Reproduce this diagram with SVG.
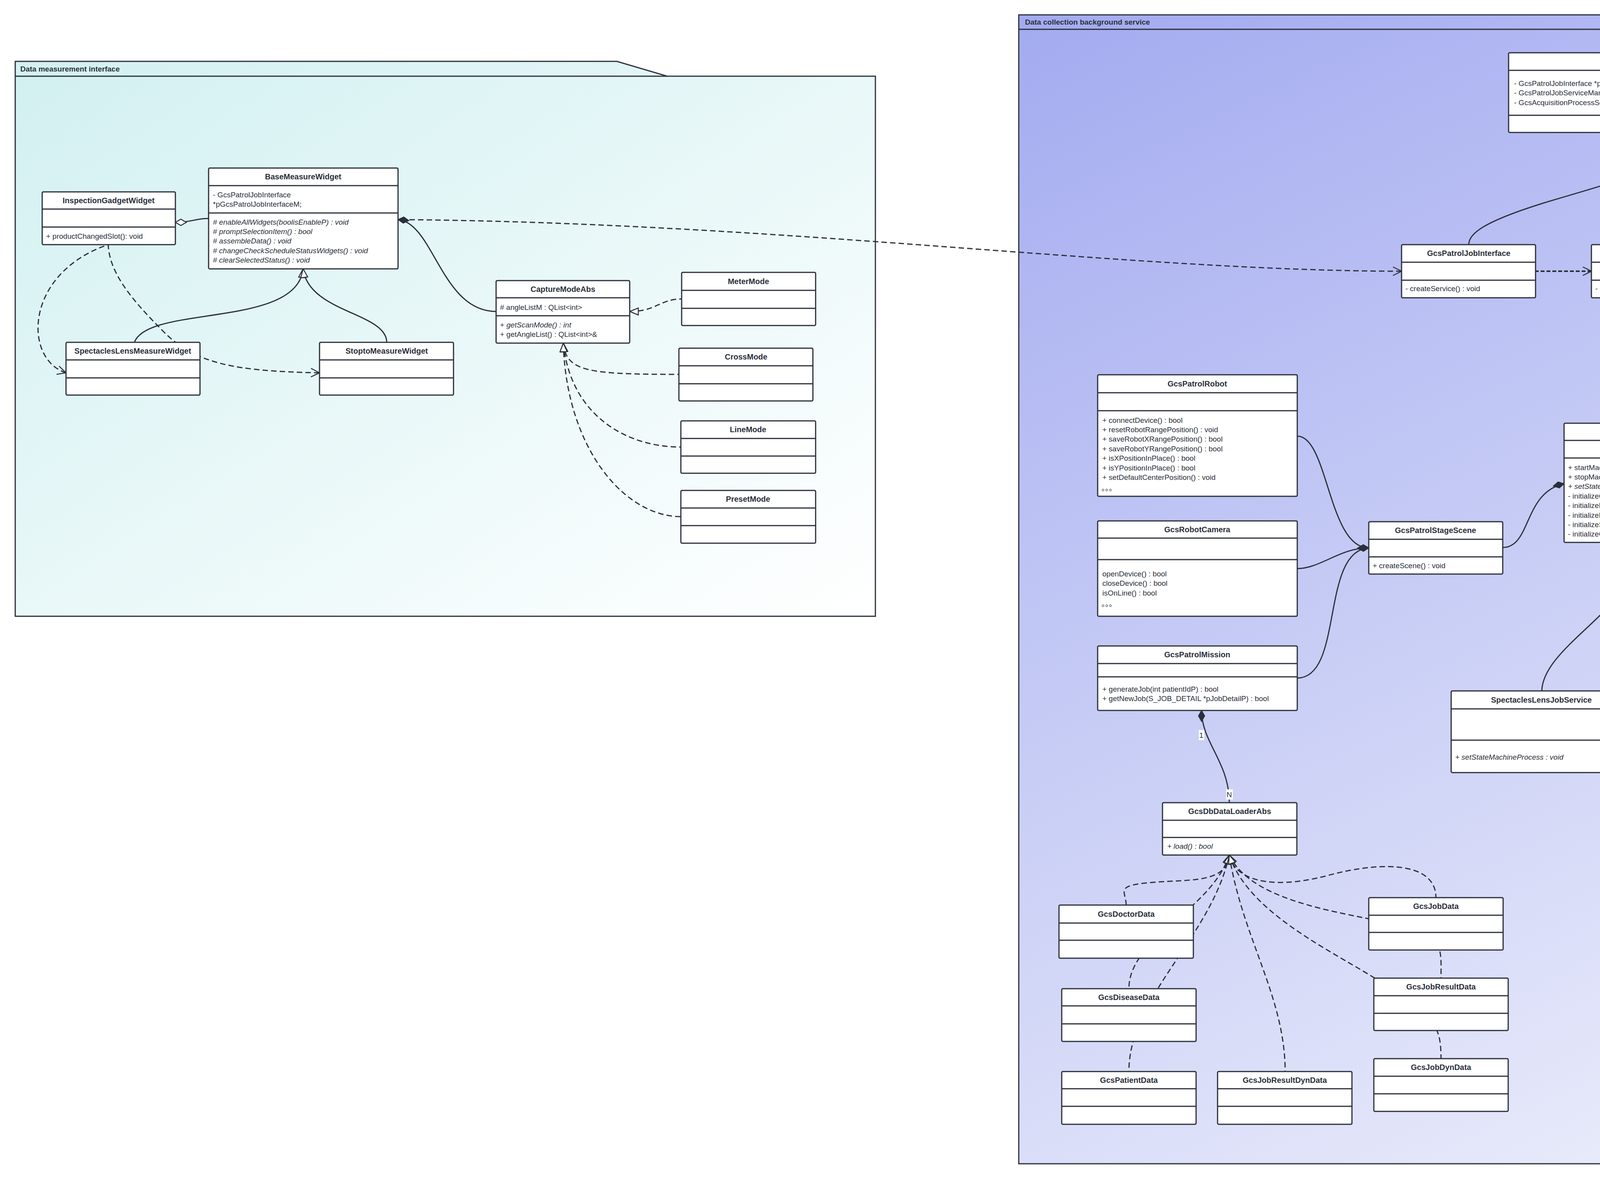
<svg xmlns="http://www.w3.org/2000/svg" width="6371" height="3017" viewBox="0 0 6371 3017">
<defs>
<linearGradient id="gL" x1="0" y1="0" x2="1" y2="1"><stop offset="0" stop-color="#d2f0f1"/><stop offset="1" stop-color="#ffffff"/></linearGradient>
<linearGradient id="gR" x1="0" y1="0" x2="0.6" y2="1"><stop offset="0" stop-color="#a3abf0"/><stop offset="1" stop-color="#eef0fb"/></linearGradient>
<marker id="dF" markerUnits="userSpaceOnUse" viewBox="-32 -10 34 20" markerWidth="34" markerHeight="20" refX="0" refY="0" orient="auto-start-reverse"><path d="M-28,0 L-14,-8 L0,0 L-14,8 z" fill="#2b2f3a" stroke="#2b2f3a" stroke-width="2"/></marker>
<marker id="dH" markerUnits="userSpaceOnUse" viewBox="-32 -10 34 20" markerWidth="34" markerHeight="20" refX="0" refY="0" orient="auto-start-reverse"><path d="M-28,0 L-14,-8 L0,0 L-14,8 z" fill="#fff" stroke="#2b2f3a" stroke-width="2.5"/></marker>
<marker id="tH" markerUnits="userSpaceOnUse" viewBox="-26 -12 28 24" markerWidth="28" markerHeight="24" refX="0" refY="0" orient="auto-start-reverse"><path d="M-22,-9 L0,0 L-22,9 z" fill="#fff" stroke="#2b2f3a" stroke-width="2.5"/></marker>
<marker id="aO" markerUnits="userSpaceOnUse" viewBox="-26 -14 28 28" markerWidth="28" markerHeight="28" refX="0" refY="0" orient="auto-start-reverse"><path d="M-22,-11 L0,0 L-22,11" fill="none" stroke="#2b2f3a" stroke-width="2.5"/></marker>
</defs>
<style>
text{font-family:"Liberation Sans Narrow","Liberation Sans","Noto Sans CJK SC",sans-serif;fill:#2b2f3a;font-size:19px}
.t{font-weight:bold;text-anchor:middle;font-size:20px}
.i{font-style:italic}
.bi{font-style:italic;font-weight:bold}
.pt{font-weight:bold;font-size:19px}
.node rect{fill:#fff;stroke:#2b2f3a;stroke-width:3}
.node line{stroke:#2b2f3a;stroke-width:3}
.pkg{stroke:#2b2f3a;stroke-width:3}
#connectors path{fill:none;stroke:#2b2f3a;stroke-width:3}
#connectors .d{stroke-dasharray:14 8}
#connectors .dd{stroke-dasharray:10 5;stroke-width:4}
.lb rect{fill:#fff}
</style>
<rect width="6371" height="3017" fill="#fff"/>
<g id="pkg-left">
<path class="pkg" d="M39,157 L1579,157 L1708,195 L2241,195 L2241,1577 L39,1577 Z" fill="url(#gL)"/>
<line class="pkg" x1="39" y1="195" x2="1708" y2="195"/>
<text class="pt" x="52" y="183">Data measurement interface</text>
</g>
<g id="pkg-right">
<path class="pkg" d="M2608,38 L5209,38 L5428,75 L6330,75 L6330,2978 L2608,2978 Z" fill="url(#gR)"/>
<line class="pkg" x1="2608" y1="75" x2="5428" y2="75"/>
<text class="pt" x="2624" y="63">Data collection background service</text>
</g>

<g id="connectors">
<path d="M449,569 C490,569 500,559 534,559" marker-start="url(#dH)"/>
<path d="M1019,562 C1110,570 1130,797 1270,797" marker-start="url(#dF)"/>
<path class="d" d="M3588,694 C2900,694 2000,570 1030,562" marker-start="url(#aO)"/>
<path d="M776,688 C760,840 380,780 344,876" marker-start="url(#tH)"/>
<path d="M776,688 C790,800 990,800 990,876" marker-start="url(#tH)"/>
<path class="d" d="M169,954 C60,920 60,700 277,626" marker-start="url(#aO)"/>
<path class="d" d="M818,954 C600,950 500,930 420,850 S280,700 277,626" marker-start="url(#aO)"/>
<path class="d" d="M1612,797 C1680,797 1690,765 1745,765" marker-start="url(#tH)"/>
<path class="d" d="M1442,878 C1450,950 1500,958 1738,958" marker-start="url(#tH)"/>
<path class="d" d="M1442,878 C1460,1060 1600,1144 1743,1144" marker-start="url(#tH)"/>
<path class="d" d="M1442,878 C1450,1150 1600,1322 1743,1322" marker-start="url(#tH)"/>

<path d="M4235,339 C4235,450 4180,450 3950,520 C3790,570 3760,600 3760,626" marker-start="url(#dF)"/>
<path d="M4235,339 L4247,626" marker-start="url(#dF)"/>
<path d="M4235,339 C4240,420 4280,470 4400,475 S4854,520 4854,613" marker-start="url(#dF)"/>
<path class="dd" d="M4074,694 L3931,694" marker-start="url(#aO)"/>
<path d="M4247,762 C4247,900 4206,950 4206,1083" marker-start="url(#dH)"/>
<path d="M4004,1238 C3900,1260 3920,1401 3847,1401" marker-start="url(#dF)"/>
<path d="M3504,1402 C3400,1402 3400,1116 3321,1116" marker-start="url(#dF)"/>
<path d="M3504,1402 C3430,1402 3380,1455 3321,1455" marker-start="url(#dF)"/>
<path d="M3504,1402 C3380,1410 3440,1735 3321,1735" marker-start="url(#dF)"/>
<path d="M4206,1388 C4200,1550 3950,1650 3947,1768" marker-start="url(#tH)"/>
<path d="M4206,1388 C4220,1550 4500,1650 4501,1768" marker-start="url(#tH)"/>
<path d="M4409,1240 C4700,1245 4900,1300 5000,1340 S5200,1369 5261,1369" marker-start="url(#dF)"/>
<path d="M3076,1818 C3076,1900 3147,1950 3147,2054" marker-start="url(#dF)"/>
<path d="M4859,799 C4859,900 4798,950 4798,1047" marker-start="url(#dF)"/>

<path d="M5432,1462 C5440,1560 5500,1580 5600,1560 S5900,1484 5955,1484" marker-start="url(#tH)"/>
<path d="M5432,1462 C5430,1560 5350,1600 5200,1598 S5000,1586 4958,1586" marker-start="url(#tH)"/>
<path d="M5432,1462 C5450,1620 5600,1704 5957,1704" marker-start="url(#tH)"/>
<path d="M5432,1462 C5470,1700 5700,1851 5942,1851" marker-start="url(#tH)"/>
<path d="M5432,1462 C5430,1700 5250,1788 5150,1788" marker-start="url(#tH)"/>
<path d="M5432,1462 C5430,1750 5200,1880 5056,1953" marker-start="url(#tH)"/>
<path d="M5432,1462 L5450,1988" marker-start="url(#tH)"/>
<path d="M5432,1462 C5460,1700 5650,1850 5797,1970" marker-start="url(#tH)"/>

<path class="d" d="M3147,2188 C3140,2260 3050,2250 2950,2258 S2883,2280 2883,2316" marker-start="url(#tH)"/>
<path class="d" d="M3147,2188 C3160,2250 3250,2280 3400,2240 S3676,2210 3676,2297" marker-start="url(#tH)"/>
<path class="d" d="M3147,2188 C3100,2330 2890,2400 2890,2530" marker-start="url(#tH)"/>
<path class="d" d="M3147,2188 C3200,2300 3400,2330 3550,2360 S3689,2420 3689,2503" marker-start="url(#tH)"/>
<path class="d" d="M3147,2188 C3100,2400 2890,2550 2890,2742" marker-start="url(#tH)"/>
<path class="d" d="M3147,2188 C3180,2400 3290,2550 3290,2742" marker-start="url(#tH)"/>
<path class="d" d="M3147,2188 C3200,2350 3450,2450 3560,2530 S3689,2620 3689,2709" marker-start="url(#tH)"/>

<g class="lb">
<rect x="4462" y="1227" width="14" height="26"/><text x="4463" y="1247">1</text>
<rect x="5155" y="1354" width="17" height="26"/><text x="5156" y="1374">N</text>
<rect x="4590" y="1270" width="340" height="28"/><text x="4594" y="1291">Aggregate multiple concrete classes</text>
<rect x="3069" y="1868" width="14" height="26"/><text x="3070" y="1888">1</text>
<rect x="3139" y="2020" width="17" height="26"/><text x="3140" y="2040">N</text>
<rect x="4836" y="873" width="14" height="26"/><text x="4837" y="893">1</text>
<rect x="4794" y="990" width="17" height="26"/><text x="4795" y="1010">N</text>
</g>
</g>

<g id="InspectionGadgetWidget" class="node"><rect x="108" y="491" width="341" height="135" rx="3"/><line x1="108" y1="535" x2="449" y2="535"/><line x1="108" y1="581" x2="449" y2="581"/><text class="t" x="278" y="520">InspectionGadgetWidget</text><text x="118" y="611">+ productChangedSlot(): void</text></g>
<g id="BaseMeasureWidget" class="node"><rect x="534" y="430" width="485" height="258" rx="3"/><line x1="534" y1="475" x2="1019" y2="475"/><line x1="534" y1="545" x2="1019" y2="545"/><text class="t" x="776" y="459">BaseMeasureWidget</text>
<text x="545" y="505">- GcsPatrolJobInterface</text><text x="545" y="529">*pGcsPatrolJobInterfaceM;</text>
<text class="i" x="545" y="575"># enableAllWidgets(boolisEnableP) :  void</text><text class="i" x="545" y="599"># promptSelectionItem() : bool</text><text class="i" x="545" y="623"># assembleData() : void</text><text class="i" x="545" y="648"># changeCheckScheduleStatusWidgets() : void</text><text class="i" x="545" y="672"># clearSelectedStatus() : void</text></g>
<g id="SpectaclesLensMeasureWidget" class="node"><rect x="169" y="876" width="343" height="135" rx="3"/><line x1="169" y1="921" x2="512" y2="921"/><line x1="169" y1="967" x2="512" y2="967"/><text class="t" x="340" y="905">SpectaclesLensMeasureWidget</text></g>
<g id="StoptoMeasureWidget" class="node"><rect x="818" y="876" width="343" height="135" rx="3"/><line x1="818" y1="921" x2="1161" y2="921"/><line x1="818" y1="967" x2="1161" y2="967"/><text class="t" x="990" y="905">StoptoMeasureWidget</text></g>
<g id="CaptureModeAbs" class="node"><rect x="1270" y="718" width="342" height="160" rx="3"/><line x1="1270" y1="762" x2="1612" y2="762"/><line x1="1270" y1="808" x2="1612" y2="808"/><text class="t" x="1441" y="747">CaptureModeAbs</text>
<text x="1280" y="793"># angleListM : QList&lt;int&gt;</text><text x="1280" y="838">+ <tspan class="i">getScanMode() : int</tspan></text><text x="1280" y="862">+ getAngleList() : QList&lt;int&gt;&amp;</text></g>
<g id="MeterMode" class="node"><rect x="1745" y="697" width="343" height="136" rx="3"/><line x1="1745" y1="743" x2="2088" y2="743"/><line x1="1745" y1="789" x2="2088" y2="789"/><text class="t" x="1916" y="727">MeterMode</text></g>
<g id="CrossMode" class="node"><rect x="1738" y="891" width="343" height="135" rx="3"/><line x1="1738" y1="936" x2="2081" y2="936"/><line x1="1738" y1="982" x2="2081" y2="982"/><text class="t" x="1910" y="920">CrossMode</text></g>
<g id="LineMode" class="node"><rect x="1743" y="1077" width="345" height="134" rx="3"/><line x1="1743" y1="1122" x2="2088" y2="1122"/><line x1="1743" y1="1167" x2="2088" y2="1167"/><text class="t" x="1915" y="1106">LineMode</text></g>
<g id="PresetMode" class="node"><rect x="1743" y="1255" width="345" height="135" rx="3"/><line x1="1743" y1="1300" x2="2088" y2="1300"/><line x1="1743" y1="1345" x2="2088" y2="1345"/><text class="t" x="1915" y="1284">PresetMode</text></g>

<g id="GcsPatrolJobServicePlugin" class="node"><rect x="3862" y="135" width="748" height="204" rx="3"/><line x1="3862" y1="180" x2="4610" y2="180"/><line x1="3862" y1="295" x2="4610" y2="295"/><text class="t" x="4236" y="164">GcsPatrolJobServicePlugin</text>
<text x="3876" y="220">- GcsPatrolJobInterface *pGcsPatrolJobInterfaceM;</text><text x="3876" y="244">- GcsPatrolJobServiceManager *pGcsPatrolJobServiceManagerM;</text><text x="3876" y="269">- GcsAcquisitionProcessServiceManager *pGcsAcquisitionServiceManagerM;</text></g>
<g id="GcsPatrolJobInterface" class="node"><rect x="3588" y="626" width="343" height="136" rx="3"/><line x1="3588" y1="671" x2="3931" y2="671"/><line x1="3588" y1="717" x2="3931" y2="717"/><text class="t" x="3760" y="655">GcsPatrolJobInterface</text><text x="3598" y="745">- createService() : void</text></g>
<g id="GcsPatrolJobServiceManager" class="node"><rect x="4074" y="626" width="345" height="136" rx="3"/><line x1="4074" y1="671" x2="4419" y2="671"/><line x1="4074" y1="717" x2="4419" y2="717"/><text class="t" x="4247" y="655">GcsPatrolJobServiceManager</text><text x="4084" y="745">- createService() : void</text></g>
<g id="GcsAcquisitionProcessServiceManager" class="node"><rect x="4691" y="613" width="343" height="186" rx="3"/><line x1="4691" y1="684" x2="5034" y2="684"/><line x1="4691" y1="729" x2="5034" y2="729"/><text class="t" x="4862" y="643">GcsAcquisitionProcess</text><text class="t" x="4862" y="668">ServiceManager</text><text x="4701" y="759">+ createThreads() :  void</text><text x="4701" y="784">+ initialize() : void</text></g>
<g id="GcsAcquisitionProcessService" class="node"><rect x="4625" y="1047" width="344" height="134" rx="3"/><line x1="4625" y1="1092" x2="4969" y2="1092"/><line x1="4625" y1="1136" x2="4969" y2="1136"/><text class="t" x="4797" y="1077">GcsAcquisitionProcessService</text><text x="4635" y="1166">+ startService() : void</text></g>

<g id="GcsPatrolRobot" class="node"><rect x="2810" y="959" width="511" height="311" rx="3"/><line x1="2810" y1="1005" x2="3321" y2="1005"/><line x1="2810" y1="1051" x2="3321" y2="1051"/><text class="t" x="3065" y="989">GcsPatrolRobot</text>
<text x="2822" y="1082">+ connectDevice() : bool</text><text x="2822" y="1106">+ resetRobotRangePosition() : void</text><text x="2822" y="1130">+ saveRobotXRangePosition() : bool</text><text x="2822" y="1155">+ saveRobotYRangePosition() : bool</text><text x="2822" y="1179">+ isXPositionInPlace() : bool</text><text x="2822" y="1204">+ isYPositionInPlace() : bool</text><text x="2822" y="1228">+ setDefaultCenterPosition() : void</text><text x="2820" y="1256">。。。</text></g>
<g id="GcsRobotCamera" class="node"><rect x="2810" y="1333" width="511" height="244" rx="3"/><line x1="2810" y1="1377" x2="3321" y2="1377"/><line x1="2810" y1="1432" x2="3321" y2="1432"/><text class="t" x="3065" y="1362">GcsRobotCamera</text>
<text x="2822" y="1475">openDevice() :  bool</text><text x="2822" y="1499">closeDevice() : bool</text><text x="2822" y="1524">isOnLine() : bool</text><text x="2820" y="1552">。。。</text></g>
<g id="GcsPatrolMission" class="node"><rect x="2810" y="1653" width="511" height="165" rx="3"/><line x1="2810" y1="1698" x2="3321" y2="1698"/><line x1="2810" y1="1732" x2="3321" y2="1732"/><text class="t" x="3065" y="1682">GcsPatrolMission</text>
<text x="2822" y="1770">+ generateJob(int patientIdP) :  bool</text><text x="2822" y="1794">+ getNewJob(S_JOB_DETAIL *pJobDetailP) : bool</text></g>
<g id="GcsPatrolStageScene" class="node"><rect x="3504" y="1335" width="343" height="134" rx="3"/><line x1="3504" y1="1380" x2="3847" y2="1380"/><line x1="3504" y1="1425" x2="3847" y2="1425"/><text class="t" x="3675" y="1364">GcsPatrolStageScene</text><text x="3514" y="1454">+ createScene() : void</text></g>
<g id="GcsPatrolJobService" class="node"><rect x="4004" y="1083" width="405" height="305" rx="3"/><line x1="4004" y1="1127" x2="4409" y2="1127"/><line x1="4004" y1="1172" x2="4409" y2="1172"/><text class="t" x="4206" y="1112">GcsPatrolJobService</text>
<text x="4014" y="1203">+ startMachine();</text><text x="4014" y="1227">+ stopMachine();</text><text class="i" x="4014" y="1251">+ setStateMachineProcess() :   void</text><text x="4014" y="1276">- initializeCoreConnections();</text><text x="4014" y="1300">- initializePatrolStageScene();</text><text x="4014" y="1325">- initializePrimaryStates();</text><text x="4014" y="1349">- initializeStateTransitions();</text><text x="4014" y="1373">- initializeChildStates();</text></g>
<g id="SpectaclesLensJobService" class="node"><rect x="3715" y="1768" width="463" height="209" rx="3"/><line x1="3715" y1="1814" x2="4178" y2="1814"/><line x1="3715" y1="1894" x2="4178" y2="1894"/><text class="t" x="3946" y="1798">SpectaclesLensJobService</text><text class="i" x="3725" y="1944">+ setStateMachineProcess : void</text></g>
<g id="StoptoJobService" class="node"><rect x="4291" y="1768" width="420" height="209" rx="3"/><line x1="4291" y1="1814" x2="4711" y2="1814"/><line x1="4291" y1="1894" x2="4711" y2="1894"/><text class="t" x="4501" y="1798">StoptoJobService</text><text class="i" x="4301" y="1944">+ setStateMachineProcess :  void</text></g>

<g id="TimerState" class="node"><rect x="5261" y="1276" width="344" height="186" rx="3"/><line x1="5261" y1="1321" x2="5605" y2="1321"/><line x1="5261" y1="1367" x2="5605" y2="1367"/><text class="t" x="5433" y="1306">TimerState (abstract class)</text>
<text class="bi" x="5272" y="1397"># onEntry(QEvent *event)</text><text class="bi" x="5272" y="1421"># onExit(QEvent *event)</text><text class="bi" x="5272" y="1446">- handleTimeOut();</text></g>
<g id="StateJobFinished" class="node"><rect x="5955" y="1416" width="259" height="135" rx="3"/><line x1="5955" y1="1462" x2="6214" y2="1462"/><line x1="5955" y1="1506" x2="6214" y2="1506"/><text class="t" x="6084" y="1446">StateJobFinished</text></g>
<g id="StateCheckRobotState" class="node"><rect x="4685" y="1518" width="273" height="135" rx="3"/><line x1="4685" y1="1564" x2="4958" y2="1564"/><line x1="4685" y1="1608" x2="4958" y2="1608"/><text class="t" x="4821" y="1548">StateCheckRobotState</text></g>
<g id="StatePlanEndPath" class="node"><rect x="5957" y="1636" width="256" height="134" rx="3"/><line x1="5957" y1="1681" x2="6213" y2="1681"/><line x1="5957" y1="1726" x2="6213" y2="1726"/><text class="t" x="6085" y="1665">StatePlanEndPath</text></g>
<g id="StatePlanRobotPath" class="node"><rect x="5942" y="1784" width="284" height="134" rx="3"/><line x1="5942" y1="1829" x2="6226" y2="1829"/><line x1="5942" y1="1874" x2="6226" y2="1874"/><text class="t" x="6084" y="1813">StatePlanRobotPath</text></g>
<g id="StateCheckInitState" class="node"><rect x="4881" y="1721" width="269" height="134" rx="3"/><line x1="4881" y1="1766" x2="5150" y2="1766"/><line x1="4881" y1="1811" x2="5150" y2="1811"/><text class="t" x="5015" y="1750">StateCheckInitState</text></g>
<g id="StateAdjustBackGround" class="node"><rect x="4910" y="1953" width="286" height="135" rx="3"/><line x1="4910" y1="1998" x2="5196" y2="1998"/><line x1="4910" y1="2042" x2="5196" y2="2042"/><text class="t" x="5053" y="1982">StateAdjustBackGround</text></g>
<g id="StateCheckSchedule" class="node"><rect x="5327" y="1988" width="245" height="134" rx="3"/><line x1="5327" y1="2033" x2="5572" y2="2033"/><line x1="5327" y1="2078" x2="5572" y2="2078"/><text class="t" x="5449" y="2017">StateCheckSchedule</text></g>
<g id="StateHandleJob" class="node"><rect x="5670" y="1970" width="254" height="135" rx="3"/><line x1="5670" y1="2015" x2="5924" y2="2015"/><line x1="5670" y1="2059" x2="5924" y2="2059"/><text class="t" x="5797" y="1999">StateHandleJob</text></g>

<g id="GcsDbDataLoaderAbs" class="node"><rect x="2976" y="2054" width="344" height="134" rx="3"/><line x1="2976" y1="2099" x2="3320" y2="2099"/><line x1="2976" y1="2143" x2="3320" y2="2143"/><text class="t" x="3148" y="2083">GcsDbDataLoaderAbs</text><text class="i" x="2988" y="2172">+ load() :  bool</text></g>
<g id="GcsDoctorData" class="node"><rect x="2711" y="2316" width="344" height="136" rx="3"/><line x1="2711" y1="2362" x2="3055" y2="2362"/><line x1="2711" y1="2406" x2="3055" y2="2406"/><text class="t" x="2883" y="2346">GcsDoctorData</text></g>
<g id="GcsJobData" class="node"><rect x="3504" y="2297" width="344" height="134" rx="3"/><line x1="3504" y1="2342" x2="3848" y2="2342"/><line x1="3504" y1="2386" x2="3848" y2="2386"/><text class="t" x="3676" y="2326">GcsJobData</text></g>
<g id="GcsDiseaseData" class="node"><rect x="2718" y="2530" width="344" height="135" rx="3"/><line x1="2718" y1="2574" x2="3062" y2="2574"/><line x1="2718" y1="2620" x2="3062" y2="2620"/><text class="t" x="2890" y="2559">GcsDiseaseData</text></g>
<g id="GcsJobResultData" class="node"><rect x="3517" y="2503" width="344" height="134" rx="3"/><line x1="3517" y1="2548" x2="3861" y2="2548"/><line x1="3517" y1="2593" x2="3861" y2="2593"/><text class="t" x="3689" y="2532">GcsJobResultData</text></g>
<g id="GcsPatientData" class="node"><rect x="2718" y="2742" width="344" height="135" rx="3"/><line x1="2718" y1="2786" x2="3062" y2="2786"/><line x1="2718" y1="2831" x2="3062" y2="2831"/><text class="t" x="2890" y="2771">GcsPatientData</text></g>
<g id="GcsJobResultDynData" class="node"><rect x="3117" y="2742" width="344" height="135" rx="3"/><line x1="3117" y1="2786" x2="3461" y2="2786"/><line x1="3117" y1="2831" x2="3461" y2="2831"/><text class="t" x="3289" y="2771">GcsJobResultDynData</text></g>
<g id="GcsJobDynData" class="node"><rect x="3517" y="2709" width="344" height="135" rx="3"/><line x1="3517" y1="2754" x2="3861" y2="2754"/><line x1="3517" y1="2799" x2="3861" y2="2799"/><text class="t" x="3689" y="2738">GcsJobDynData</text></g>
</svg>
